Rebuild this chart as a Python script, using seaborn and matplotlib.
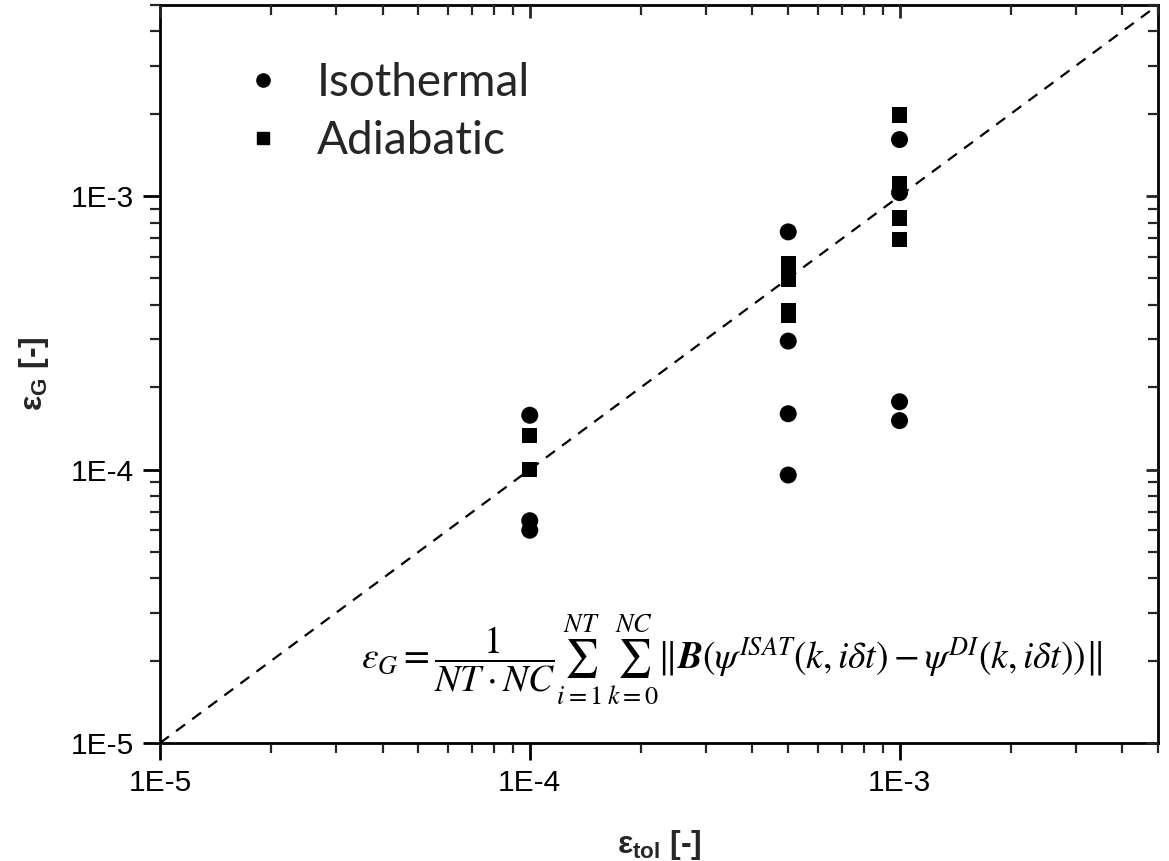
import numpy as np
import pandas as pd
import matplotlib
matplotlib.use("Agg")
import matplotlib.pyplot as plt
import seaborn as sns
from matplotlib.lines import Line2D
from matplotlib.ticker import FixedLocator, LogLocator, NullFormatter, FuncFormatter

# ---------------- data ----------------
iso_tol = [1e-4, 1e-4, 1e-4,
           5e-4, 5e-4, 5e-4, 5e-4,
           1e-3, 1e-3, 1e-3, 1e-3]
iso_err = [1.58e-4, 6.5e-5, 6.0e-5,
           7.40e-4, 2.95e-4, 1.60e-4, 9.55e-5,
           1.61e-3, 1.03e-3, 1.77e-4, 1.51e-4]

adi_tol = [1e-4, 1e-4,
           5e-4, 5e-4, 5e-4, 5e-4,
           1e-3, 1e-3, 1e-3, 1e-3]
adi_err = [1.33e-4, 1.0e-4,
           5.65e-4, 4.94e-4, 3.80e-4, 3.67e-4,
           1.98e-3, 1.11e-3, 8.32e-4, 6.92e-4]

series_names = ["Isothermal", "Adiabatic"]
ref_line = [1e-5, 5e-3]
axis_lim = [1e-5, 5e-3]
major_ticks = [1e-5, 1e-4, 1e-3]
tick_labels = ["1E-5", "1E-4", "1E-3"]

df = pd.DataFrame({
    "tol": iso_tol + adi_tol,
    "err": iso_err + adi_err,
    "case": [series_names[0]] * len(iso_tol) + [series_names[1]] * len(adi_tol),
})

# ---------------- style ----------------
sns.set_theme(style="white")
plt.rcParams["font.family"] = ["Liberation Sans", "DejaVu Sans"]
plt.rcParams["mathtext.fontset"] = "custom"
plt.rcParams["mathtext.rm"] = "Liberation Sans"
plt.rcParams["mathtext.bf"] = "Liberation Sans:bold"
plt.rcParams["mathtext.it"] = "Liberation Sans:italic"

fig = plt.figure(figsize=(11.69, 8.61), dpi=100)
W, H = 1169, 861
ax = fig.add_axes([160 / W, 1 - 743 / H, (1158 - 160) / W, (743 - 5) / H])

sns.scatterplot(data=df[df.case == "Isothermal"], x="tol", y="err", ax=ax,
                marker="o", s=150, color="black", edgecolor="none", legend=False, zorder=3)
sns.scatterplot(data=df[df.case == "Adiabatic"], x="tol", y="err", ax=ax,
                marker="s", s=120, color="black", edgecolor="none", legend=False, zorder=3)

ax.plot(ref_line, ref_line, color="black", lw=1.6, ls=(0, (5, 4)), zorder=2)

ax.set_xscale("log")
ax.set_yscale("log")
ax.set_xlim(axis_lim)
ax.set_ylim(axis_lim)

fmt = FuncFormatter(lambda v, p: dict(zip(major_ticks, tick_labels)).get(v, ""))
for axis in (ax.xaxis, ax.yaxis):
    axis.set_major_locator(FixedLocator(major_ticks))
    axis.set_major_formatter(fmt)
    axis.set_minor_locator(LogLocator(base=10, subs=np.arange(2, 10), numticks=20))
    axis.set_minor_formatter(NullFormatter())

ax.tick_params(which="major", direction="out", length=12, width=2, labelsize=21.5,
               colors="black", pad=7, bottom=True, left=True)
ax.tick_params(which="minor", direction="out", length=7, width=1.6,
               bottom=True, left=True)

for sp in ax.spines.values():
    sp.set_color("black")
    sp.set_linewidth(2)

# inward ticks on top and right
axt = ax.twiny()
axt.set_xscale("log")
axt.set_xlim(axis_lim)
axr = ax.twinx()
axr.set_yscale("log")
axr.set_ylim(axis_lim)
for a, axis in ((axt, axt.xaxis), (axr, axr.yaxis)):
    axis.set_major_locator(FixedLocator(major_ticks))
    axis.set_minor_locator(LogLocator(base=10, subs=np.arange(2, 10), numticks=20))
    axis.set_major_formatter(NullFormatter())
    axis.set_minor_formatter(NullFormatter())
    a.tick_params(which="major", direction="in", length=9, width=2)
    a.tick_params(which="minor", direction="in", length=7, width=1.6)
    for sp in a.spines.values():
        sp.set_visible(False)

ax.set_xlabel(r"$\mathbf{ε_{tol}}$ [-]", fontsize=23, fontweight="bold", labelpad=22)
ax.set_ylabel(r"$\mathbf{ε_{G}}$ [-]", fontsize=23, fontweight="bold", labelpad=14)

# legend
handles = [Line2D([], [], ls="none", marker="o", markersize=9.5, color="black"),
           Line2D([], [], ls="none", marker="s", markersize=8, color="black")]
leg = ax.legend(handles, series_names, loc="upper left",
                bbox_to_anchor=(240 / W, 1 - 62 / H), bbox_transform=fig.transFigure,
                frameon=False, prop={"family": "Lato", "size": 33},
                handlelength=1.0, handletextpad=0.68, labelspacing=0.36, borderpad=0,
                borderaxespad=0)

# formula
formula = (r"$\varepsilon_G = \dfrac{1}{NT \cdot NC}\sum_{i=1}^{NT}\,\sum_{k=0}^{NC}"
           r"\Vert\boldsymbol{B}(\psi^{ISAT}(k,i\delta t) - \psi^{DI}(k,i\delta t))\Vert$")
ax.text(0.573, 0.112, formula, transform=ax.transAxes, ha="center", va="center",
        fontsize=27, math_fontfamily="stix", color="black")

fig.savefig("out.png", dpi=100)
